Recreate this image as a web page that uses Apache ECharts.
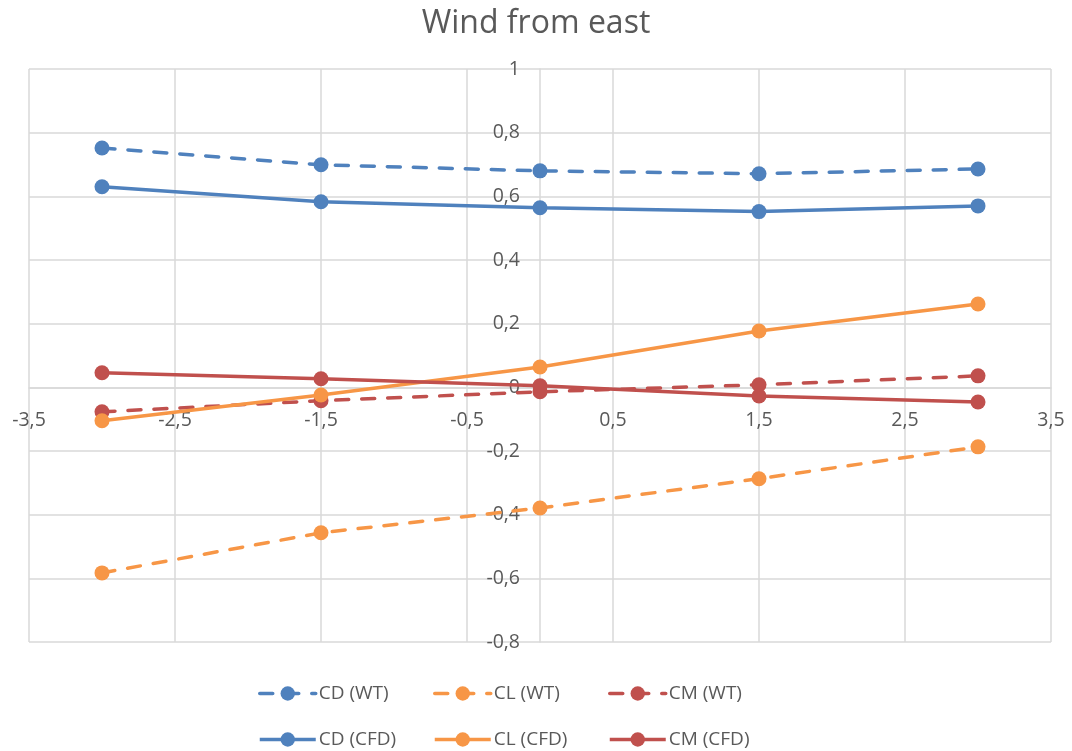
<!DOCTYPE html>
<html>
<head>
<meta charset="utf-8">
<script src="https://cdn.jsdelivr.net/npm/echarts@6/dist/echarts.min.js"></script>
<style>
  html, body { margin: 0; padding: 0; background: #ffffff; }
  #chart { width: 1072px; height: 751px; }
</style>
</head>
<body>
<div id="chart"></div>
<script>
// Angle positions (x) shared by all series
const xValues = [-3, -1.5, 0, 1.5, 3];

// Wind tunnel measurements
const cdWT = [0.752, 0.699, 0.680, 0.671, 0.686];
const clWT = [-0.583, -0.457, -0.379, -0.287, -0.187];
const cmWT = [-0.077, -0.042, -0.014, 0.008, 0.036];

// CFD results
const cdCFD = [0.630, 0.583, 0.564, 0.552, 0.570];
const clCFD = [-0.105, -0.024, 0.064, 0.177, 0.262];
const cmCFD = [0.046, 0.027, 0.005, -0.027, -0.046];

const seriesNames = ['CD (WT)', 'CL (WT)', 'CM (WT)', 'CD (CFD)', 'CL (CFD)', 'CM (CFD)'];

// Axis ranges
const X_MIN = -3.5, X_MAX = 3.5, X_STEP = 1;
const Y_MIN = -0.8, Y_MAX = 1, Y_STEP = 0.2;

const BLUE = '#4F81BD', ORANGE = '#F79646', RED = '#C0504D';
const TEXT = '#595959', GRID = '#d9d9d9';
const FONT = '"Open Sans", sans-serif';

const W = 1072, H = 751;
const G = { left: 29, right: 21, top: 69, bottom: 109 };
const plotW = W - G.left - G.right;
const plotH = H - G.top - G.bottom;
// Axes cross at zero: shift each axis from its edge to the zero of the other
const xAxisShift = -plotH * (0 - Y_MIN) / (Y_MAX - Y_MIN);
const yAxisShift = -plotW * (0 - X_MIN) / (X_MAX - X_MIN);

const comma = v => String(Math.round(v * 10) / 10).replace('.', ',');
const pairs = ys => xValues.map((x, i) => [x, ys[i]]);

function line(name, ys, color, dashed) {
  return {
    name: name,
    type: 'line',
    data: pairs(ys),
    symbol: 'circle',
    symbolSize: 15,
    showAllSymbol: true,
    itemStyle: { color: color },
    lineStyle: {
      color: color,
      width: 3.5,
      type: dashed ? [13, 13] : 'solid',
      cap: dashed ? 'round' : 'butt'
    },
    emphasis: { disabled: true },
    animation: false
  };
}

// One legend block per entry so they line up in columns
const legendCols = [258, 433, 608];
const legendRows = [684, 730];
const legends = seriesNames.map((n, i) => ({
  data: [n],
  left: legendCols[i % 3],
  top: legendRows[Math.floor(i / 3)],
  padding: 0,
  itemWidth: 56,
  itemHeight: 18,
  itemGap: 0,
  lineStyle: { width: 3.5 },
  textStyle: { color: TEXT, fontSize: 19, fontFamily: FONT, padding: [0, 0, 0, -2] },
  selectedMode: false
}));

const chart = echarts.init(document.getElementById('chart'), null, { renderer: 'canvas' });
chart.setOption({
  backgroundColor: '#ffffff',
  title: {
    text: 'Wind from east',
    left: 'center',
    top: 3,
    textStyle: { color: TEXT, fontSize: 32, fontWeight: 'normal', fontFamily: FONT }
  },
  legend: legends,
  grid: Object.assign({ containLabel: false, outerBoundsMode: 'none' }, G),
  xAxis: {
    type: 'value',
    min: X_MIN,
    max: X_MAX,
    interval: X_STEP,
    position: 'bottom',
    offset: xAxisShift,
    axisLine: { show: true, onZero: false, lineStyle: { color: GRID, width: 1.5 } },
    axisTick: { show: false },
    splitLine: { show: true, lineStyle: { color: GRID, width: 1.5 } },
    axisLabel: {
      color: TEXT, fontSize: 19.5, fontFamily: FONT, margin: 23,
      formatter: comma, showMinLabel: true, showMaxLabel: true
    }
  },
  yAxis: {
    type: 'value',
    min: Y_MIN,
    max: Y_MAX,
    interval: Y_STEP,
    position: 'left',
    offset: yAxisShift,
    axisLine: { show: true, onZero: false, lineStyle: { color: GRID, width: 1.5 } },
    axisTick: { show: false },
    splitLine: { show: true, lineStyle: { color: GRID, width: 1.5 } },
    axisLabel: {
      color: TEXT, fontSize: 19.5, fontFamily: FONT, margin: 20,
      formatter: comma, showMinLabel: true, showMaxLabel: true
    }
  },
  series: [
    line(seriesNames[0], cdWT, BLUE, true),
    line(seriesNames[1], clWT, ORANGE, true),
    line(seriesNames[2], cmWT, RED, true),
    line(seriesNames[3], cdCFD, BLUE, false),
    line(seriesNames[4], clCFD, ORANGE, false),
    line(seriesNames[5], cmCFD, RED, false)
  ]
});
</script>
</body>
</html>
